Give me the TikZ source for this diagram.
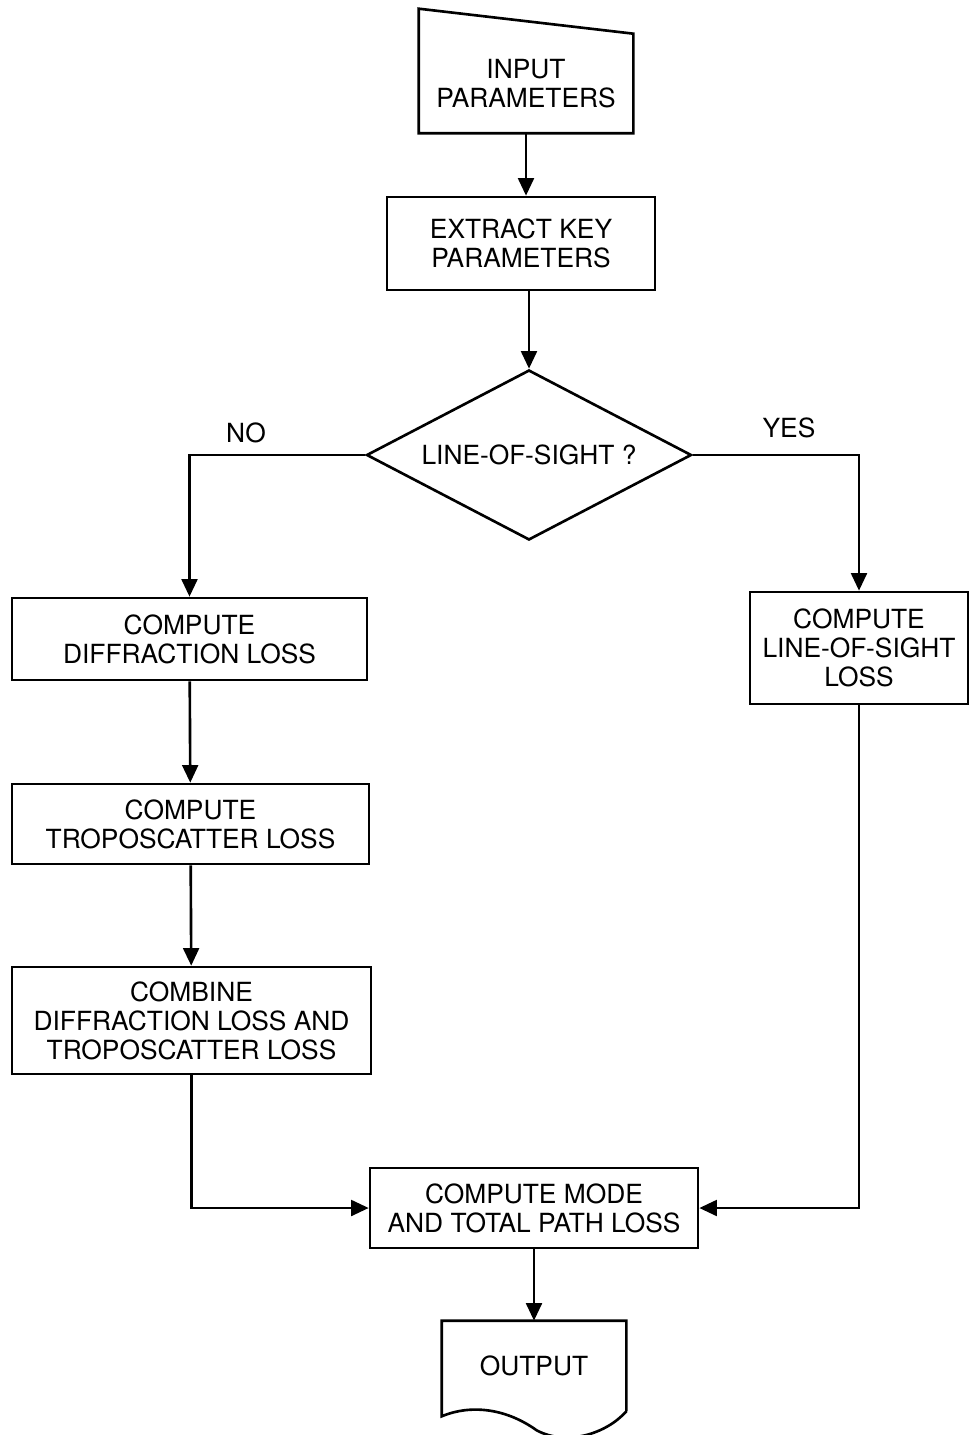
\documentclass[tikz,border=0pt]{standalone}
\usepackage{fontspec}
\setmainfont{TeX Gyre Heros}
\usetikzlibrary{shapes.geometric,arrows.meta}

\begin{document}
\begin{tikzpicture}[
    line width=1.5pt,
    every node/.style={font=\fontsize{15}{16.5}\selectfont, align=center},
    proc/.style={rectangle, draw, minimum height=1.6cm, inner sep=2pt},
    decision/.style={diamond, draw, aspect=1.91, minimum width=6.5cm, minimum height=3.4cm, inner sep=0pt},
    flow/.style={-{Triangle[length=10pt,width=9pt]}}
]
\useasboundingbox (0,0) rectangle (19.36,-28.7);

% Entree et preparation
\node[minimum width=4.24cm, minimum height=1.94cm, inner sep=0pt] (input) at (10.52,-1.67) {INPUT\\PARAMETERS};
\draw (input.south west) -- (input.south east) -- (input.north east) -- ([yshift=0.5cm]input.north west) -- cycle;
\node[proc, minimum width=5.36cm, minimum height=1.86cm] (extract) at (10.42,-4.87) {EXTRACT KEY\\PARAMETERS};
\node[decision] (los) at (10.58,-9.1) {LINE-OF-SIGHT ?};
\node (no) at (4.92,-8.66) {NO};
\node (yes) at (15.78,-8.56) {YES};

% Branche diffraction
\node[proc, minimum width=7.1cm, minimum height=1.64cm] (diffr) at (3.79,-12.78) {COMPUTE\\DIFFRACTION LOSS};
\node[proc, minimum width=7.14cm] (tropo) at (3.81,-16.48) {COMPUTE\\TROPOSCATTER LOSS};
\node[proc, minimum width=7.18cm, minimum height=2.14cm] (combine) at (3.83,-20.41) {COMBINE\\DIFFRACTION LOSS AND\\TROPOSCATTER LOSS};

% Branche visibilite directe
\node[proc, minimum width=4.36cm, minimum height=2.24cm] (losloss) at (17.18,-12.96) {COMPUTE\\LINE-OF-SIGHT\\LOSS};

% Sortie
\node[proc, minimum width=6.56cm] (mode) at (10.68,-24.16) {COMPUTE MODE\\AND TOTAL PATH LOSS};
\node[minimum width=3.64cm, minimum height=1.76cm, inner sep=0pt] (output) at (10.68,-27.32) {OUTPUT};
\draw (output.south east) -- (output.north east) -- (output.north west) -- ([yshift=-0.1cm]output.south west)
  .. controls ([xshift=0.6cm,yshift=0.15cm]output.south west) and ([xshift=1.3cm,yshift=0.05cm]output.south west) ..
  ([xshift=1.9cm,yshift=-0.38cm]output.south west)
  .. controls ([xshift=2.5cm,yshift=-0.7cm]output.south west) and ([xshift=-0.4cm,yshift=-0.45cm]output.south east) ..
  (output.south east);

% Fleches
\draw[flow] (input.south) -- (input.south |- extract.north);
\draw[flow] (los.north |- extract.south) -- (los.north);
\draw[flow] (los.west) -| (diffr.north);
\draw[flow] (los.east) -| (losloss.north);
\draw[flow] (diffr) -- (tropo);
\draw[flow] (tropo) -- (combine);
\draw[flow] (combine.south) |- (mode.west);
\draw[flow] (losloss.south) |- (mode.east);
\draw[flow] (mode) -- (output);

\end{tikzpicture}
\end{document}
